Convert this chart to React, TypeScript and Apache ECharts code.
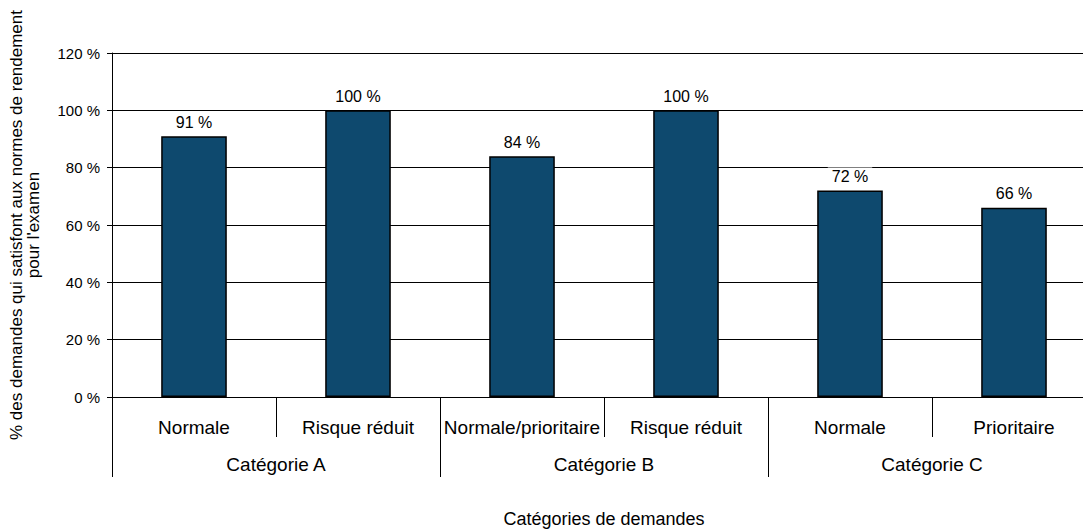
import React, { useEffect, useRef } from "react";
import * as echarts from "echarts";

const subCategories = ["Normale", "Risque réduit", "Normale/prioritaire", "Risque réduit", "Normale", "Prioritaire"];
const groups = ["Catégorie A", "Catégorie B", "Catégorie C"];
const values = [91, 100, 84, 100, 72, 66];
const yTicks = { min: 0, max: 120, interval: 20 };

const FONT = "'Liberation Sans', Arial, sans-serif";

export default function App() {
  const ref = useRef<HTMLDivElement>(null);
  useEffect(() => {
    if (!ref.current) return;
    const chart = echarts.init(ref.current, null, { renderer: "svg" });
    chart.setOption({
      animation: false,
      textStyle: { fontFamily: FONT, color: "#000" },
      grid: { left: 112, top: 53, width: 984, bottom: 132, containLabel: false, outerBoundsMode: "none" },
      xAxis: [
        {
          type: "category",
          data: subCategories,
          position: "bottom",
          axisLine: { show: true, lineStyle: { color: "#000", width: 1 } },
          axisTick: { show: true, interval: 0, length: 40, lineStyle: { color: "#000", width: 1 } },
          axisLabel: { interval: 0, fontSize: 19, color: "#000", margin: 21, fontFamily: FONT },
          name: "Catégories de demandes",
          nameLocation: "middle",
          nameGap: 113,
          nameTextStyle: { fontSize: 18, color: "#000", fontFamily: FONT },
        },
        {
          type: "category",
          data: groups,
          position: "bottom",
          offset: 40,
          axisLine: { show: false },
          axisTick: { show: true, interval: 0, length: 40, lineStyle: { color: "#000", width: 1 } },
          axisLabel: { interval: 0, fontSize: 19, color: "#000", margin: 18, fontFamily: FONT },
        },
      ],
      yAxis: {
        type: "value",
        min: yTicks.min,
        max: yTicks.max,
        interval: yTicks.interval,
        axisLine: { show: true, lineStyle: { color: "#000", width: 1 } },
        axisTick: { show: true, length: 5, lineStyle: { color: "#000" } },
        axisLabel: { formatter: "{value} %", fontSize: 15, color: "#000", margin: 12, fontFamily: FONT },
        splitLine: { show: true, lineStyle: { color: "#000", width: 1 } },
        name: "% des demandes qui satisfont aux normes de rendement\npour l'examen",
        nameLocation: "middle",
        nameRotate: 90,
        nameGap: 70,
        nameTextStyle: { fontSize: 17, lineHeight: 17, color: "#000", fontFamily: FONT, align: "center" },
      },
      series: [
        {
          type: "bar",
          xAxisIndex: 0,
          data: values,
          barWidth: "40%",
          itemStyle: { color: "#0E496E", borderColor: "#000", borderWidth: 1.5 },
          label: {
            show: true,
            position: "top",
            distance: 5,
            formatter: "{c} %",
            fontSize: 16,
            color: "#000",
            fontFamily: FONT,
            backgroundColor: "#fff",
            padding: [1, 4],
          },
        },
      ],
    });
    return () => chart.dispose();
  }, []);
  return (
    <div
      ref={ref}
      style={{ position: "absolute", left: 0, top: 0, width: 1083, height: 529, background: "#fff" }}
    />
  );
}
